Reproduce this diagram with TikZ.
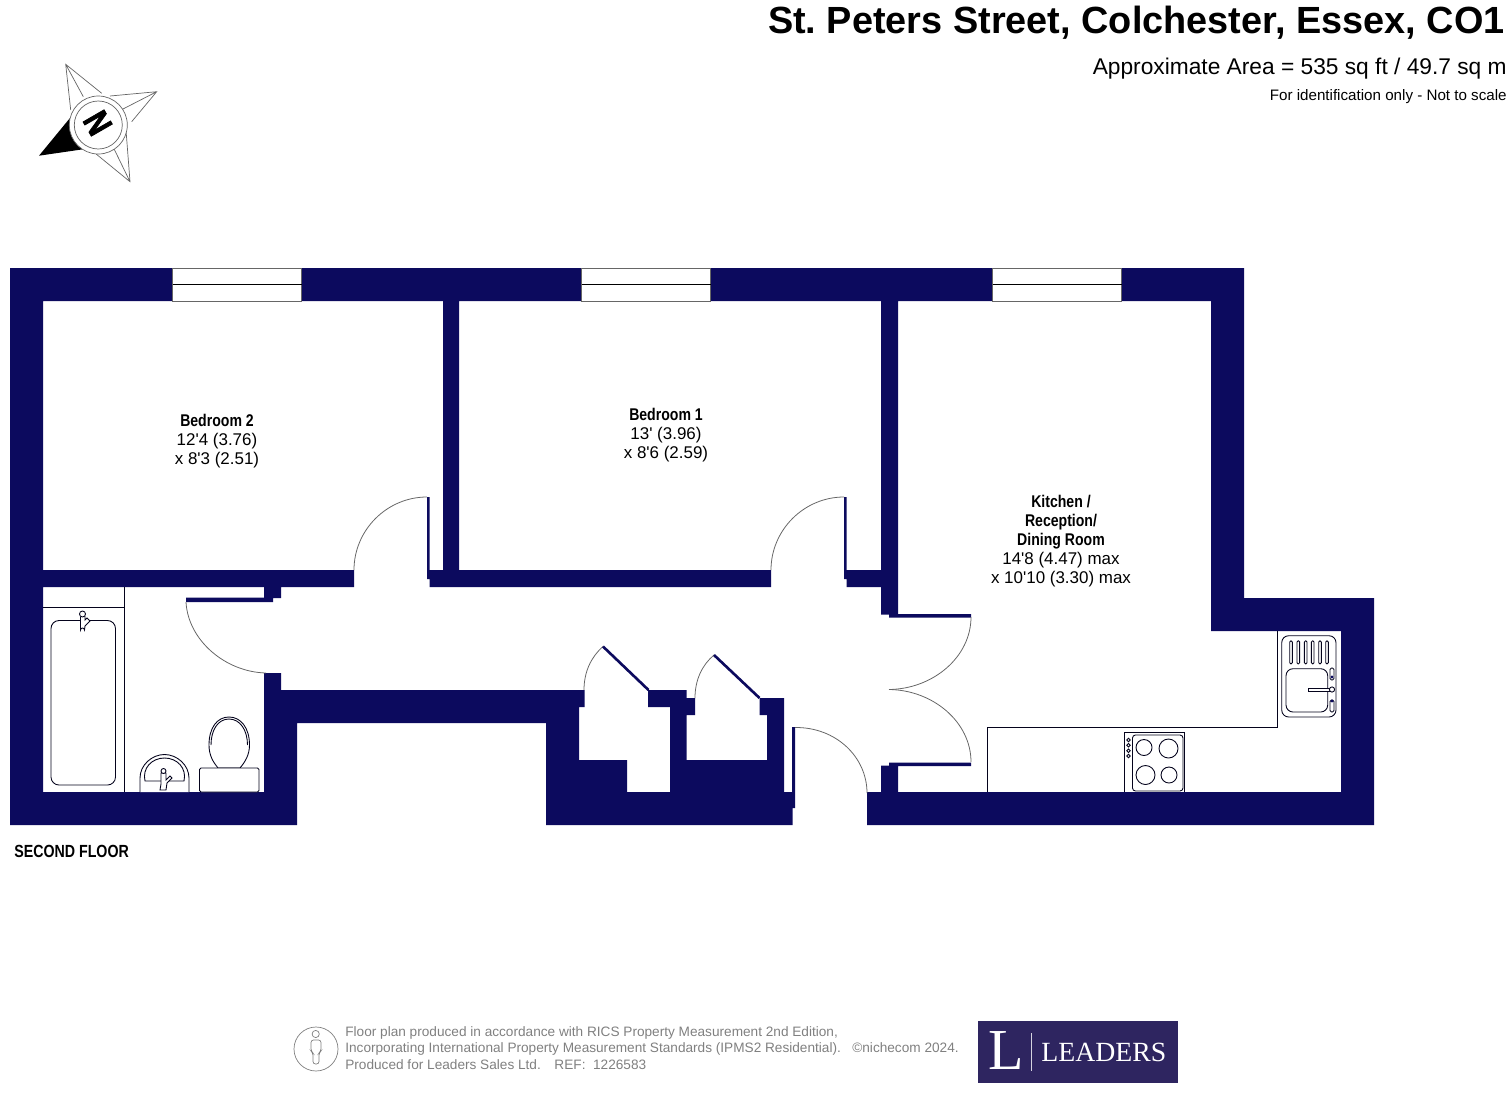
\documentclass[tikz,border=0pt]{standalone}
\usepackage{fontspec}
\newfontfamily\plansans{Liberation Sans}
\newfontfamily\planserif{Liberation Serif}
\newfontfamily\plannarrow[FakeStretch=0.83]{Liberation Sans}
\newfontfamily\compassfont[FakeBold=2.5]{Liberation Sans}
\frenchspacing
\definecolor{wallblue}{HTML}{0C0A5E}
\definecolor{logoblue}{HTML}{2E2560}
\definecolor{creditgray}{HTML}{808080}
\tikzset{
  fixture/.style={draw=black!70!wallblue,line width=0.5pt,fill=white},
  swing/.style={draw=black!60,line width=0.45pt},
  leaf/.style={draw=wallblue,line width=1.5pt},
  windowbox/.style={draw=black!60,fill=white,line width=0.5pt},
  roomlabel/.style={align=center,inner sep=0pt,font=\plansans\fontsize{9.65}{10.8}\selectfont},
  creditlabel/.style={inner sep=0pt,text=creditgray,font=\plansans\fontsize{7.76}{9.4}\selectfont}
}
\newcommand{\roomhead}[1]{{\plannarrow\bfseries #1}}
\begin{document}
\begin{tikzpicture}[x=0.02cm,y=-0.02cm]
          \useasboundingbox (0,0) rectangle (1512,1096);
          \fill[wallblue] (10,268) -- (1244,268) -- (1244,598) -- (1374,598) -- (1374,825) -- (867,825)
            -- (867,792) -- (881,792) -- (881,765.7) -- (889,765.7) -- (889,762.5) -- (971,762.5)
            -- (971,766) -- (898,766) -- (898,792) -- (1341,792) -- (1341,631) -- (1211,631)
            -- (1211,301) -- (898,301) -- (898,614) -- (971,614) -- (971,617.5) -- (889,617.5)
            -- (889,614.5) -- (881,614.5) -- (881,587) -- (846.5,587) -- (846.5,579) -- (844,579)
            -- (844,497) -- (846.7,497) -- (846.7,570) -- (881,570) -- (881,301) -- (459,301)
            -- (459,570) -- (771,570) -- (771,587) -- (429.5,587) -- (429.5,579) -- (427,579)
            -- (427,497) -- (429.5,497) -- (429.5,570) -- (443,570) -- (443,301) -- (43,301)
            -- (43,570) -- (354,570) -- (354,587) -- (281,587) -- (281,598) -- (273,598)
            -- (273,602) -- (186,602) -- (186,597.5) -- (264,597.5) -- (264,587) -- (43,587)
            -- (43,792) -- (264,792) -- (264,673) -- (281,673) -- (281,690) -- (584.5,690)
            -- (584.5,707) -- (579,707) -- (579,760) -- (627,760) -- (627,792) -- (670,792)
            -- (670,707) -- (648,707) -- (648,690) -- (686.7,690) -- (686.7,698) -- (695,698)
            -- (695,715) -- (686.7,715) -- (686.7,760) -- (767,760) -- (767,715) -- (759.5,715)
            -- (759.5,698) -- (784,698) -- (784,792) -- (792,792) -- (792,727) -- (795,727)
            -- (795,808) -- (792.5,808) -- (792.5,825) -- (546,825) -- (546,723) -- (297,723)
            -- (297,825) -- (10,825) -- cycle;
          \foreach \winx in {172.7,581.7,992.7} {
            \draw[windowbox] (\winx,268) rectangle ++(129,33);
            \draw[line width=0.5pt] (\winx,284) -- ++(129,0);
          }
          \draw[swing] (354,570) .. controls (354,530) and (387,497) .. (427,497);
          \draw[swing] (771,570) .. controls (771,530) and (804,497) .. (844,497);
          \draw[swing] (186,602) .. controls (188,640) and (225,672) .. (266,673);
          \draw[swing] (971,617) .. controls (971,657) and (933,689) .. (889,689.5);
          \draw[swing] (971,762) .. controls (971,722) and (933,690) .. (889,689.5);
          \draw[swing] (795,727.5) .. controls (836,727) and (867,757) .. (867,793);
          \draw[swing] (603,646.5) .. controls (591,657) and (584,672) .. (584,690);
          \draw[swing] (714,655) .. controls (702,665) and (695,680) .. (695,698);
          \draw[leaf] (603,646.5) -- (648.5,690);
          \draw[leaf] (714,655) -- (759.5,698);

          \draw[fixture,fill=none] (124.5,587) -- (124.5,792) (43,607) -- (124.5,607);
          \draw[fixture,rounded corners=0.16cm] (51,620.5) rectangle (115.5,785);
          \draw[fixture] (80.5,617) -- (80.5,630) arc[start angle=180,end angle=0,radius=2,y radius=-2] -- (85,626) -- (90,621) -- (87,618) -- (85,620) -- (85,616);
          \draw[fixture] (82.5,614) circle[radius=3];
          \draw[fixture] (140,792) -- (140,778) .. controls (140,765) and (152,754.5) .. (164.5,754.5)
            .. controls (177,754.5) and (189,765) .. (189,778) -- (189,792);
          \draw[fixture] (145,781) .. controls (142,768) and (152,758) .. (164.5,758)
            .. controls (177,758) and (187,768) .. (184,781) -- cycle;
          \draw[fixture] (161,773) -- (161,784) -- (160,790) -- (166,790) -- (167,783) -- (172,778) -- (170,776) -- (166,780) -- (166,773) -- cycle;
          \draw[fixture] (163.5,771) circle[radius=2.5];
          \draw[fixture] (209,745) .. controls (209,728) and (217,717) .. (229,717)
            .. controls (241,717) and (249.5,728) .. (249.5,745) .. controls (249.5,755) and (245,762) .. (240,768) -- (218,768) .. controls (213,762) and (209,755) .. (209,745) -- cycle;
          \draw[fixture] (211,745) .. controls (211,730) and (218,719) .. (229,719)
            .. controls (240,719) and (247.5,730) .. (247.5,745);
          \draw[fixture,rounded corners=0.03cm] (199.5,792) rectangle (259,768);

          \draw[fixture,fill=none] (987,792) -- (987,727) -- (1277,727) -- (1277,631);
          \draw[fixture] (1124.5,792) -- (1124.5,732.5) -- (1184.5,732.5) -- (1184.5,792);
          \draw[fixture,rounded corners=0.06cm] (1132.5,735) rectangle (1183,791);
          \draw[fixture] (1144,747.5) circle[radius=8];
          \draw[fixture] (1168.5,748.5) circle[radius=9.5];
          \draw[fixture] (1145.5,775) circle[radius=9.5];
          \draw[fixture] (1169,775) circle[radius=8];
          \foreach \knoby in {740,745.3,750.7,756} {
            \draw[fixture] (1128.5,\knoby) circle[radius=1.8];
          }
          \draw[fixture,rounded corners=0.14cm] (1281.7,635.7) rectangle (1336,717);
          \foreach \slotx in {1291,1298.3,1305.7,1312.7,1320,1327} {
            \draw[fixture,rounded corners=0.025cm] (\slotx-1.3,640.7) rectangle (\slotx+1.3,664);
          }
          \draw[fixture,rounded corners=0.14cm] (1286,668.7) rectangle (1327.7,712);
          \draw[fixture] (1308,688) rectangle (1330,691);
          \draw[fixture] (1332,689.5) circle[radius=2.6];
          \draw[fixture,rounded corners=0.03cm] (1330,668) rectangle (1334,680);
          \draw[fixture,rounded corners=0.03cm] (1330,700) rectangle (1334,712);
          \fill[wallblue] (1332,677) circle[radius=1.6] (1332,701) circle[radius=1.6];

          \draw[black!60,line width=0.4pt,fill=white] (70.7,110) -- (65.7,64.3) -- (101.7,93.3) (65.7,64.3) -- (83.3,96.7);
          \draw[black!60,line width=0.4pt,fill=white] (110,96) -- (156.7,91.7) -- (131.7,121.7) (156.7,91.7) -- (123,109);
          \draw[black!60,line width=0.4pt,fill=white] (126,130) -- (130,181.7) -- (93.3,151.7) (130,181.7) -- (113,146.7);
          \fill[black] (39,155.7) -- (70,118) -- (85,149) -- cycle;
          \draw[black!60,line width=0.4pt,fill=white] (98.3,125) circle[radius=29];
          \draw[black!60,line width=0.4pt] (98.3,125) circle[radius=24];
          \node[rotate=-60,xscale=0.8,font=\compassfont\bfseries\fontsize{20}{20}\selectfont] (compassn) at (97.7,123) {N};

          \node[anchor=east,inner sep=0pt,font=\plansans\bfseries\fontsize{21.55}{21.55}\selectfont] (title) at (1505,23) {St. Peters Street, Colchester, Essex, CO1};
          \node[anchor=east,inner sep=0pt,font=\plansans\fontsize{12.94}{12.94}\selectfont] (area) at (1507,68.5) {Approximate Area = 535 sq ft / 49.7 sq m};
          \node[anchor=east,inner sep=0pt,font=\plansans\fontsize{8.63}{8.63}\selectfont] (note) at (1507,97) {For identification only - Not to scale};

          \node[roomlabel] (bedtwo) at (217,441) {\roomhead{Bedroom 2}\\12'4 (3.76)\\x 8'3 (2.51)};
          \node[roomlabel] (bedone) at (666,435) {\roomhead{Bedroom 1}\\13' (3.96)\\x 8'6 (2.59)};
          \node[roomlabel] (kitchen) at (1061,541) {\roomhead{Kitchen /}\\\roomhead{Reception/}\\\roomhead{Dining Room}\\14'8 (4.47) max\\x 10'10 (3.30) max};
          \node[anchor=west,inner sep=0pt,xscale=0.81,font=\plansans\bfseries\fontsize{10}{10}\selectfont] (floor) at (14,851) {SECOND FLOOR};

          \draw[creditgray,line width=0.4pt] (316,1049) circle[radius=22];
          \draw[creditgray,line width=0.4pt] (315.7,1034) circle[radius=3.6];
          \draw[creditgray,line width=0.4pt,rounded corners=0.05cm] (311,1051) -- (311,1040) -- (321,1040) -- (321,1051) -- (319,1053) -- (319,1064) -- (313,1064) -- (313,1053) -- cycle;
          \node[anchor=west,align=left,creditlabel] (credit) at (345,1048) {Floor plan produced in accordance with RICS Property Measurement 2nd Edition,\\Incorporating International Property Measurement Standards (IPMS2 Residential).\\Produced for Leaders Sales Ltd.\quad REF:\ \ 1226583};
          \node[anchor=west,creditlabel] (nichecom) at (852,1048) {©nichecom 2024.};

          \fill[logoblue] (978,1021) rectangle (1178,1083);
          \draw[white!80!logoblue,line width=0.4pt] (1031,1033) -- (1031,1071);
          \node[text=white,font=\planserif\fontsize{33}{33}\selectfont] (logol) at (1006,1051) {L};
          \node[anchor=west,inner sep=0pt,text=white,font=\planserif\fontsize{15.8}{15.8}\selectfont] (logoname) at (1041,1052) {LEADERS};
\end{tikzpicture}
\end{document}
